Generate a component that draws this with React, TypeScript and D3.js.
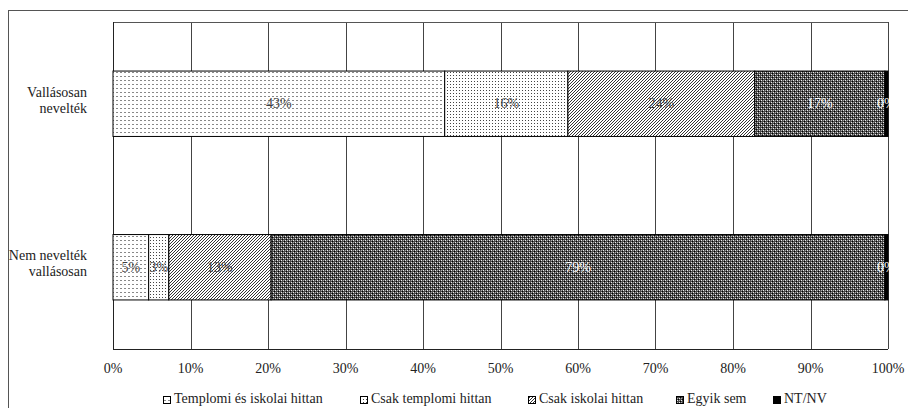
import React from 'react';
import * as d3 from 'd3';

const categories = ['Vallásosan nevelték', 'Nem nevelték vallásosan'];
const categoryLines = [['Vallásosan', 'nevelték'], ['Nem nevelték', 'vallásosan']];
const seriesNames = ['Templomi és iskolai hittan', 'Csak templomi hittan', 'Csak iskolai hittan', 'Egyik sem', 'NT/NV'];
const templomiEsIskolai = [42.8, 4.6];
const csakTemplomi = [15.9, 2.6];
const csakIskolai = [24.1, 13.2];
const egyikSem = [16.8, 79.2];
const ntNv = [0.4, 0.4];
const labelValues = [[43, 16, 24, 17, 0], [5, 3, 13, 79, 0]];
const xTicks = [0, 10, 20, 30, 40, 50, 60, 70, 80, 90, 100];

const fills = ['url(#p1)', 'url(#p2)', 'url(#p3)', 'url(#p4)', '#000'];
const labelColors = ['#404040', '#404040', '#404040', '#fff', '#fff'];
const FONT = 'Liberation Serif';

export default function App() {
  const width = 908;
  const height = 408;
  const x = d3.scaleLinear().domain([0, 100]).range([113, 888]);
  const y = d3.scaleBand<string>().domain(categories).range([22, 349]).paddingInner(0.6).paddingOuter(0.3);

  const rows = categories.map((c, i) => ({
    cat: c,
    s0: templomiEsIskolai[i],
    s1: csakTemplomi[i],
    s2: csakIskolai[i],
    s3: egyikSem[i],
    s4: ntNv[i],
  }));
  const keys = ['s0', 's1', 's2', 's3', 's4'];
  const stacked = d3.stack<any>().keys(keys)(rows);

  const legendX = [163, 360, 528, 676, 773];
  const ts = { fontFamily: FONT, fontSize: '14px' };

  return (
    <svg width={width} height={height} style={{ position: 'absolute', left: 0, top: 0 }}>
      <defs>
        <pattern id="p1" width="4" height="4" patternUnits="userSpaceOnUse">
          <rect width="4" height="4" fill="#fff" />
          <rect x="0" y="0" width="2" height="1" fill="#888" />
        </pattern>
        <pattern id="p2" width="3" height="3" patternUnits="userSpaceOnUse">
          <rect width="3" height="3" fill="#fff" />
          <rect x="0" y="0" width="1" height="1" fill="#444" />
        </pattern>
        <pattern id="p3" width="3" height="3" patternUnits="userSpaceOnUse">
          <rect width="3" height="3" fill="#fff" />
          <path d="M-1,1 l2,-2 M0,3 l3,-3 M2,4 l2,-2" stroke="#000" strokeWidth="0.8" />
        </pattern>
        <pattern id="p4" width="4" height="4" patternUnits="userSpaceOnUse">
          <rect width="4" height="4" fill="#4a4a4a" />
          <rect x="1" y="0" width="1" height="1" fill="#eee" />
          <rect x="3" y="2" width="1" height="1" fill="#eee" />
          <rect x="0" y="1" width="1" height="1" fill="#000" />
          <rect x="2" y="3" width="1" height="1" fill="#000" />
          <rect x="1" y="2" width="1" height="1" fill="#aaa" />
          <rect x="3" y="0" width="1" height="1" fill="#aaa" />
        </pattern>
      </defs>

      <rect x={8.5} y={10.5} width={910} height={410} fill="#fff" stroke="#555" strokeWidth={1} />

      {/* gridlines */}
      {xTicks.map((t) => (
        <line key={t} x1={Math.round(x(t)) + 0.5} x2={Math.round(x(t)) + 0.5} y1={22} y2={349} stroke="#444" strokeWidth={1} />
      ))}
      <line x1={113} x2={888} y1={22.5} y2={22.5} stroke="#555" />
      <line x1={113} x2={888} y1={349.5} y2={349.5} stroke="#222" />
      <line x1={113.5} x2={113.5} y1={22} y2={350} stroke="#222" />

      {/* bars */}
      {stacked.map((layer, si) =>
        layer.map((d, ci) => {
          const x0 = x(d[0]);
          const x1 = x(d[1]);
          const yy = y(categories[ci]) as number;
          return (
            <rect key={`${si}-${ci}`} x={x0} y={yy} width={x1 - x0} height={y.bandwidth()}
              fill={fills[si]} stroke="#000" strokeWidth={1} />
          );
        })
      )}

      {/* data labels */}
      {stacked.map((layer, si) =>
        layer.map((d, ci) => (
          <text key={`l${si}-${ci}`} x={(x(d[0]) + x(d[1])) / 2} y={(y(categories[ci]) as number) + y.bandwidth() / 2 + 4.5}
            textAnchor="middle" style={ts} fill={labelColors[si]}>
            {labelValues[ci][si]}%
          </text>
        ))
      )}

      {/* y labels */}
      {categories.map((c, i) => {
        const cy = (y(c) as number) + y.bandwidth() / 2;
        return (
          <text key={c} x={87} textAnchor="end" style={ts} fill="#222">
            {categoryLines[i].map((l, j) => (
              <tspan key={j} x={87} y={cy - 7 + j * 16}>{l}</tspan>
            ))}
          </text>
        );
      })}

      {/* x labels */}
      {xTicks.map((t) => (
        <text key={`t${t}`} x={x(t)} y={373} textAnchor="middle" style={ts} fill="#222">{t}%</text>
      ))}

      {/* legend */}
      {seriesNames.map((s, i) => (
        <g key={s}>
          <rect x={legendX[i] + 0.5} y={396.5} width={7} height={7} fill={fills[i]} stroke="#000" strokeWidth={1} />
          <text x={legendX[i] + 11} y={403} style={ts} fill="#222">{s}</text>
        </g>
      ))}
    </svg>
  );
}
